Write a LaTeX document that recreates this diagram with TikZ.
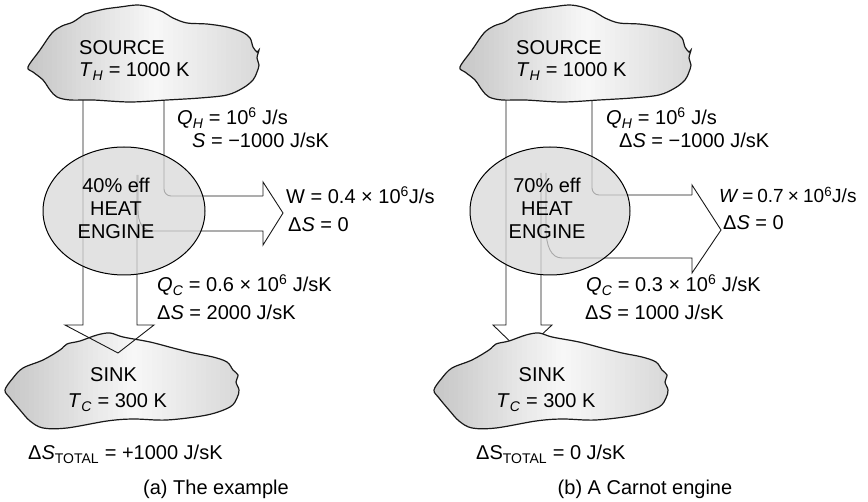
\documentclass[tikz,border=0pt]{standalone}
\usepackage{fontspec}
\setmainfont{Liberation Sans}
\newcommand{\subI}[1]{\textsubscript{\itshape #1}}
\newcommand{\supU}[1]{\textsuperscript{#1}}
% shaded cloud: #1 shift, #2 xmin, #3 xmax, #4 coordinates
\newcommand{\cloudpic}[4]{%
 \begin{scope}[shift={(#1,0)}]
 \begin{scope}
 \clip plot[smooth cycle, tension=0.55] coordinates {#4};
 \foreach \i in {0,...,47}{
   \pgfmathsetmacro{\tval}{\i/47}
   \pgfmathsetmacro{\gv}{\tval<0.55 ? 0.78+0.19*\tval/0.55 : 0.97-0.12*(\tval-0.55)/0.45}
   \pgfmathsetmacro{\xa}{#2+(#3-#2)*\i/48}
   \pgfmathsetmacro{\xb}{#2+(#3-#2)*(\i+1)/48+0.7}
   \definecolor{cstripe}{gray}{\gv}
   \fill[cstripe] (\xa,0) rectangle (\xb,502);
 }
 \end{scope}
 \draw[cloudline] plot[smooth cycle, tension=0.55] coordinates {#4};
 \end{scope}}
\tikzset{
  flow/.style={line width=0.9pt, line join=miter, color=black!90},
  cloudline/.style={line width=1.2pt, color=black!90},
  engbox/.style={draw, line width=1pt, fill=black!15, fill opacity=0.75},
  lbl/.style={anchor=base west, inner sep=0pt, font=\fontsize{20}{23}\selectfont},
  clbl/.style={anchor=base, inner sep=0pt, font=\fontsize{20}{23}\selectfont},
}
\begin{document}
\begin{tikzpicture}[x=1pt,y=-1pt]
\useasboundingbox (0,0) rectangle (868,502);
\fill[white] (0,0) rectangle (868,502);

% ---------- left sink cloud (below the arrow) ----------
\cloudpic{0}{5}{240}{
 (5,390) (13,378) (23,368) (43,360) (60,350) (67,344) (80,341) (97,335) (110,333)
 (123,337) (150,342) (173,348) (193,353) (213,357) (227,362) (233,370) (238,375)
 (236,382) (239,390) (237,398) (230,407) (207,415) (167,420) (133,419) (107,421)
 (67,428) (43,428) (30,421) (20,410) (10,398)}

% ---------- left panel flow lines ----------
\draw[flow] (83,95) -- (83,325) -- (65,325) -- (118,353) -- (154,325) -- (137,325) -- (137,175);
\draw[flow, rounded corners=7pt] (164,95) -- (164,196) -- (263,196);
\draw[flow] (263,196) -- (263,182) -- (283,213) -- (263,245) -- (263,231) -- (153,231)
  .. controls (143,231) and (138,223) .. (138,210) -- (138,175);

% ---------- right panel flow lines ----------
\draw[flow] (506,95) -- (506,325) -- (493,325) -- (522,353) -- (552,325) -- (541,325) -- (541,173);
\draw[flow, rounded corners=7pt] (592,95) -- (592,195) -- (692,195);
\draw[flow] (692,195) -- (692,185) -- (721,230) -- (692,273) -- (692,258) -- (562,258)
  .. controls (551,258) and (546,246) .. (546,228) -- (546,173);

% ---------- engines ----------
\draw[engbox] (124,211) ellipse [x radius=81, y radius=64];
\draw[engbox] (550,211) ellipse [x radius=80, y radius=64];

% ---------- source clouds ----------
\foreach \dx in {0,432}{
\cloudpic{\dx}{28}{260}{
 (28,67) (40,50) (52,33) (62,26) (73,22) (85,14) (92,12) (105,9) (120,7) (137,5)
 (150,7) (163,12) (173,18) (187,23) (207,24) (227,27) (242,32) (250,38) (253,47)
 (257,52) (259,50) (257,58) (259,65) (257,72) (253,80) (243,88) (227,95) (200,98)
 (167,100) (130,102) (93,100) (70,100) (57,97) (50,90) (43,80) (33,72)}
}

% ---------- right sink cloud (over the arrow) ----------
\cloudpic{429}{5}{240}{
 (5,390) (13,378) (23,368) (43,360) (60,350) (67,344) (80,341) (97,335) (110,333)
 (123,337) (150,342) (173,348) (193,353) (213,357) (227,362) (233,370) (238,375)
 (236,382) (239,390) (237,398) (230,407) (207,415) (167,420) (133,419) (107,421)
 (67,428) (43,428) (30,421) (20,410) (10,398)}

% ---------- left panel texts ----------
\node[lbl] (srcA1) at (79,55) {SOURCE};
\node[lbl] (srcA2) at (79,77) {\textit{T}\subI{H} = 1000 K};
\node[lbl] (qhA) at (177,125) {\textit{Q}\subI{H} = 10\supU{6} J/s};
\node[lbl] (dsA) at (192,148) {\textit{S} = −1000 J/sK};
\node[clbl] (engA1) at (116,193) {40\% eff};
\node[clbl] (engA2) at (116,216) {HEAT};
\node[clbl] (engA3) at (116,239) {ENGINE};
\node[lbl] (wA) at (286,204) {W = 0.4 × 10\supU{6}J/s};
\node[lbl] (wsA) at (288,232) {Δ\textit{S} = 0};
\node[lbl] (qcA) at (157,292) {\textit{Q}\subI{C} = 0.6 × 10\supU{6} J/sK};
\node[lbl] (dcA) at (157,320) {Δ\textit{S} = 2000 J/sK};
\node[clbl] (snkA1) at (113.5,382) {SINK};
\node[clbl] (snkA2) at (117.5,408) {\textit{T}\subI{C} = 300 K};
\node[lbl] (totA) at (28,460) {Δ\textit{S}\textsubscript{TOTAL} = +1000 J/sK};
\node[clbl] (capA) at (216,495) {(a) The example};

% ---------- right panel texts ----------
\node[lbl] (srcB1) at (516,55) {SOURCE};
\node[lbl] (srcB2) at (516,77) {\textit{T}\subI{H} = 1000 K};
\node[lbl] (qhB) at (606,125) {\textit{Q}\subI{H} = 10\supU{6} J/s};
\node[lbl] (dsB) at (619,148) {Δ\textit{S} = −1000 J/sK};
\node[clbl] (engB1) at (547,193) {70\% eff};
\node[clbl] (engB2) at (547,216) {HEAT};
\node[clbl] (engB3) at (547,239) {ENGINE};
\node[lbl, font=\fontsize{19}{23}\selectfont] (wB) at (719,203) {\textit{W}\hspace{0.2em}=\hspace{0.2em}0.7\hspace{0.22em}×\hspace{0.22em}10\supU{6}J/s};
\node[lbl] (wsB) at (723,230) {Δ\textit{S} = 0};
\node[lbl] (qcB) at (586,292) {\textit{Q}\subI{C} = 0.3 × 10\supU{6} J/sK};
\node[lbl] (dcB) at (585,320) {Δ\textit{S} = 1000 J/sK};
\node[clbl] (snkB1) at (542,382) {SINK};
\node[clbl] (snkB2) at (546,408) {\textit{T}\subI{C} = 300 K};
\node[lbl] (totB) at (476,460) {ΔS\textsubscript{TOTAL} = 0 J/sK};
\node[clbl] (capB) at (645,495) {(b) A Carnot engine};
\end{tikzpicture}
\end{document}
